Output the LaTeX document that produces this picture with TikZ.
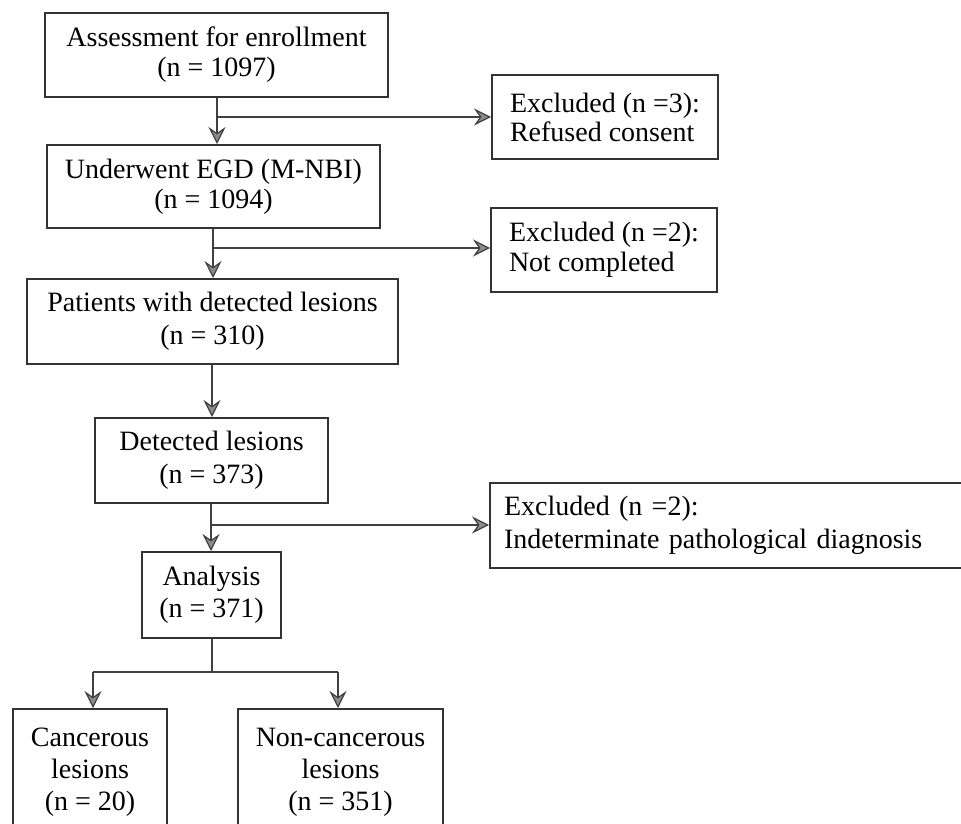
\documentclass[tikz,border=0pt]{standalone}
\usepackage{fontspec}
\setmainfont{Liberation Serif}
\usetikzlibrary{arrows.meta}
\begin{document}
\begin{tikzpicture}[x=1pt,y=-1pt,
  box/.style={draw=black!80, line width=2pt, inner sep=0pt, align=center,
    text=black, font=\fontsize{28}{30}\selectfont},
  conn/.style={draw=black!75, line width=2pt},
  arr/.style={conn, -{Stealth[length=17pt, width=17pt, inset=6pt, fill=black!45, line width=1.2pt]}}
]
\useasboundingbox[fill=white] (0,0) rectangle (961,824);
\clip (0,0) rectangle (961,824);

% main column
\node[box, minimum width=343pt, minimum height=84pt, font=\fontsize{28}{30}\selectfont]
  (b1) at (216.5,55) {Assessment for enrollment\\(n = 1097)};
\node[box, minimum width=333pt, minimum height=83pt, font=\fontsize{28}{30}\selectfont]
  (b2) at (213.5,186.5) {Underwent EGD (M-NBI)\\(n = 1094)};
\node[box, minimum width=371pt, minimum height=85pt, font=\fontsize{28}{33}\selectfont]
  (b3) at (212.5,321.5) {Patients with detected lesions\\(n = 310)};
\node[box, minimum width=233pt, minimum height=85pt, font=\fontsize{28}{33}\selectfont]
  (b4) at (211.5,460.5) {Detected lesions\\(n = 373)};
\node[box, minimum width=139pt, minimum height=86pt, font=\fontsize{28}{32}\selectfont]
  (b5) at (211.5,595) {Analysis\\(n = 371)};
\node[box, minimum width=154pt, minimum height=126pt, font=\fontsize{28}{32}\selectfont]
  (b6) at (90,772) {Cancerous\\lesions\\(n = 20)};
\node[box, minimum width=205pt, minimum height=126pt, font=\fontsize{28}{32}\selectfont]
  (b7) at (340.5,772) {Non-cancerous\\lesions\\(n = 351)};

% exclusion boxes
\node[box, minimum width=226pt, minimum height=84pt,
  align=left, font=\fontsize{28}{29}\selectfont]
  (e1) at (605,117) {Excluded (n =3):\\Refused consent};
\node[box, minimum width=226pt, minimum height=84pt,
  align=left, font=\fontsize{28}{30}\selectfont]
  (e2) at (604,250) {Excluded (n =2):\\Not completed};
\node[box, minimum width=485pt, minimum height=85pt, inner xsep=14pt, text width=457pt,
  align=left, font=\fontsize{28}{33}\selectfont]
  (e3) at (732.5,525.5) {Excluded (n =2):\\Indeterminate pathological diagnosis};

% junctions
\coordinate (j1) at (217,117);
\coordinate (j2) at (213,248);
\coordinate (j3) at (211,525);
\coordinate (j4) at (212,672);
\coordinate (l4) at (93,672);
\coordinate (r4) at (338,672);

% connectors
\draw[arr] (j1 |- b1.south) -- (j1 |- b2.north);
\draw[arr] (j1) -- (j1 -| e1.west);
\draw[arr] (j2 |- b2.south) -- (j2 |- b3.north);
\draw[arr] (j2) -- (j2 -| e2.west);
\draw[arr] (b3.south -| 212,0) -- (b4.north -| 212,0);
\draw[arr] (j3 |- b4.south) -- (j3 |- b5.north);
\draw[arr] (j3) -- (j3 -| e3.west);
\draw[conn] (j4 |- b5.south) -- (j4);
\draw[conn] (l4) -- (r4);
\draw[arr] (l4) -- (l4 |- b6.north);
\draw[arr] (r4) -- (r4 |- b7.north);
\end{tikzpicture}
\end{document}
